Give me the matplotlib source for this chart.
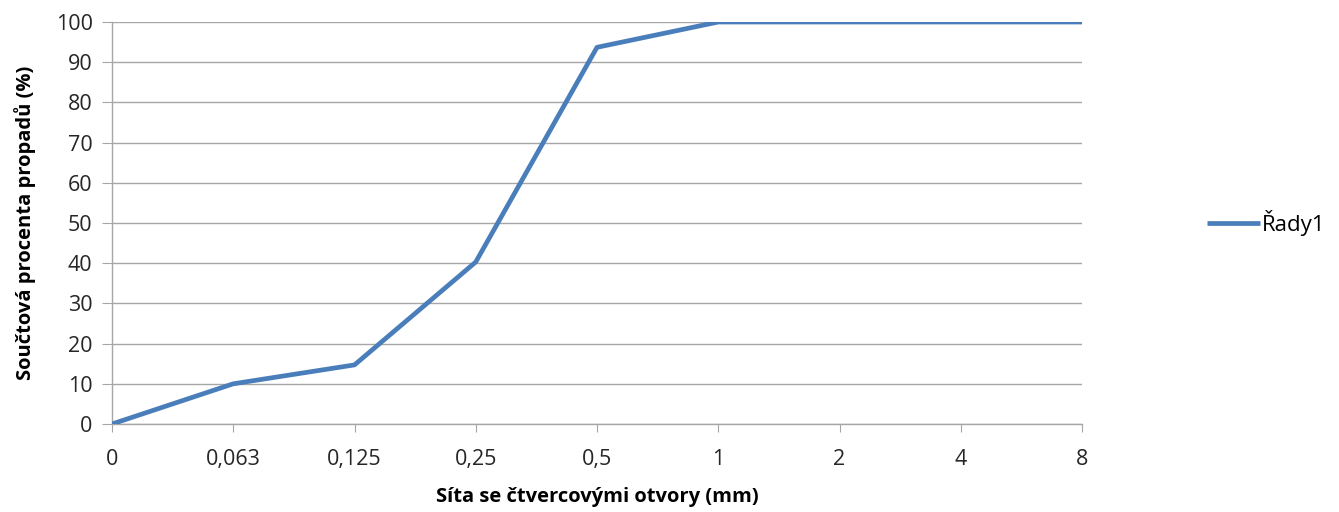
import matplotlib.pyplot as plt
plt.rcParams["font.family"] = ["Open Sans", "DejaVu Sans"]

# Sieve sizes (mm) and cumulative passing (%)
sieves = ["0", "0,063", "0,125", "0,25", "0,5", "1", "2", "4", "8"]
passing = [0, 10, 14.7, 40.3, 93.7, 100, 100, 100, 100]

grid_col = "#a6a6a6"

fig = plt.figure(figsize=(13.39, 5.12), dpi=100)
ax = fig.add_axes([112 / 1339, 1 - 424 / 512, 970 / 1339, 402 / 512])

x = range(len(sieves))
ax.plot(x, passing, color="#4a7ebb", linewidth=3.4, label="Řady1",
        solid_capstyle="butt", zorder=3)

ax.set_xlim(0, len(sieves) - 1)
ax.set_ylim(0, 100)
ax.set_xticks(list(x))
ax.set_xticklabels(sieves)
ax.set_yticks(range(0, 101, 10))
ax.yaxis.grid(True, color=grid_col, linewidth=1.0)
ax.set_axisbelow(True)

for side in ["top", "right"]:
    ax.spines[side].set_visible(False)
for side in ["left", "bottom"]:
    ax.spines[side].set_color(grid_col)
    ax.spines[side].set_linewidth(1.0)

ax.tick_params(axis="y", length=7, color=grid_col, labelsize=15.5, pad=7,
               labelcolor="#262626")
ax.tick_params(axis="x", length=6, color=grid_col, labelsize=15.5, pad=12,
               labelcolor="#262626")

ax.set_xlabel("Síta se čtvercovými otvory (mm)", fontsize=14.5,
              fontweight="bold", labelpad=12)
ax.set_ylabel("Součtová procenta propadů (%)", fontsize=14.5,
              fontweight="bold", labelpad=14)

ax.legend(loc="center left", bbox_to_anchor=(1.108, 0.5), frameon=False,
          fontsize=16, handlelength=2.4, handletextpad=0.1)

fig.savefig("out.png", dpi=100)
